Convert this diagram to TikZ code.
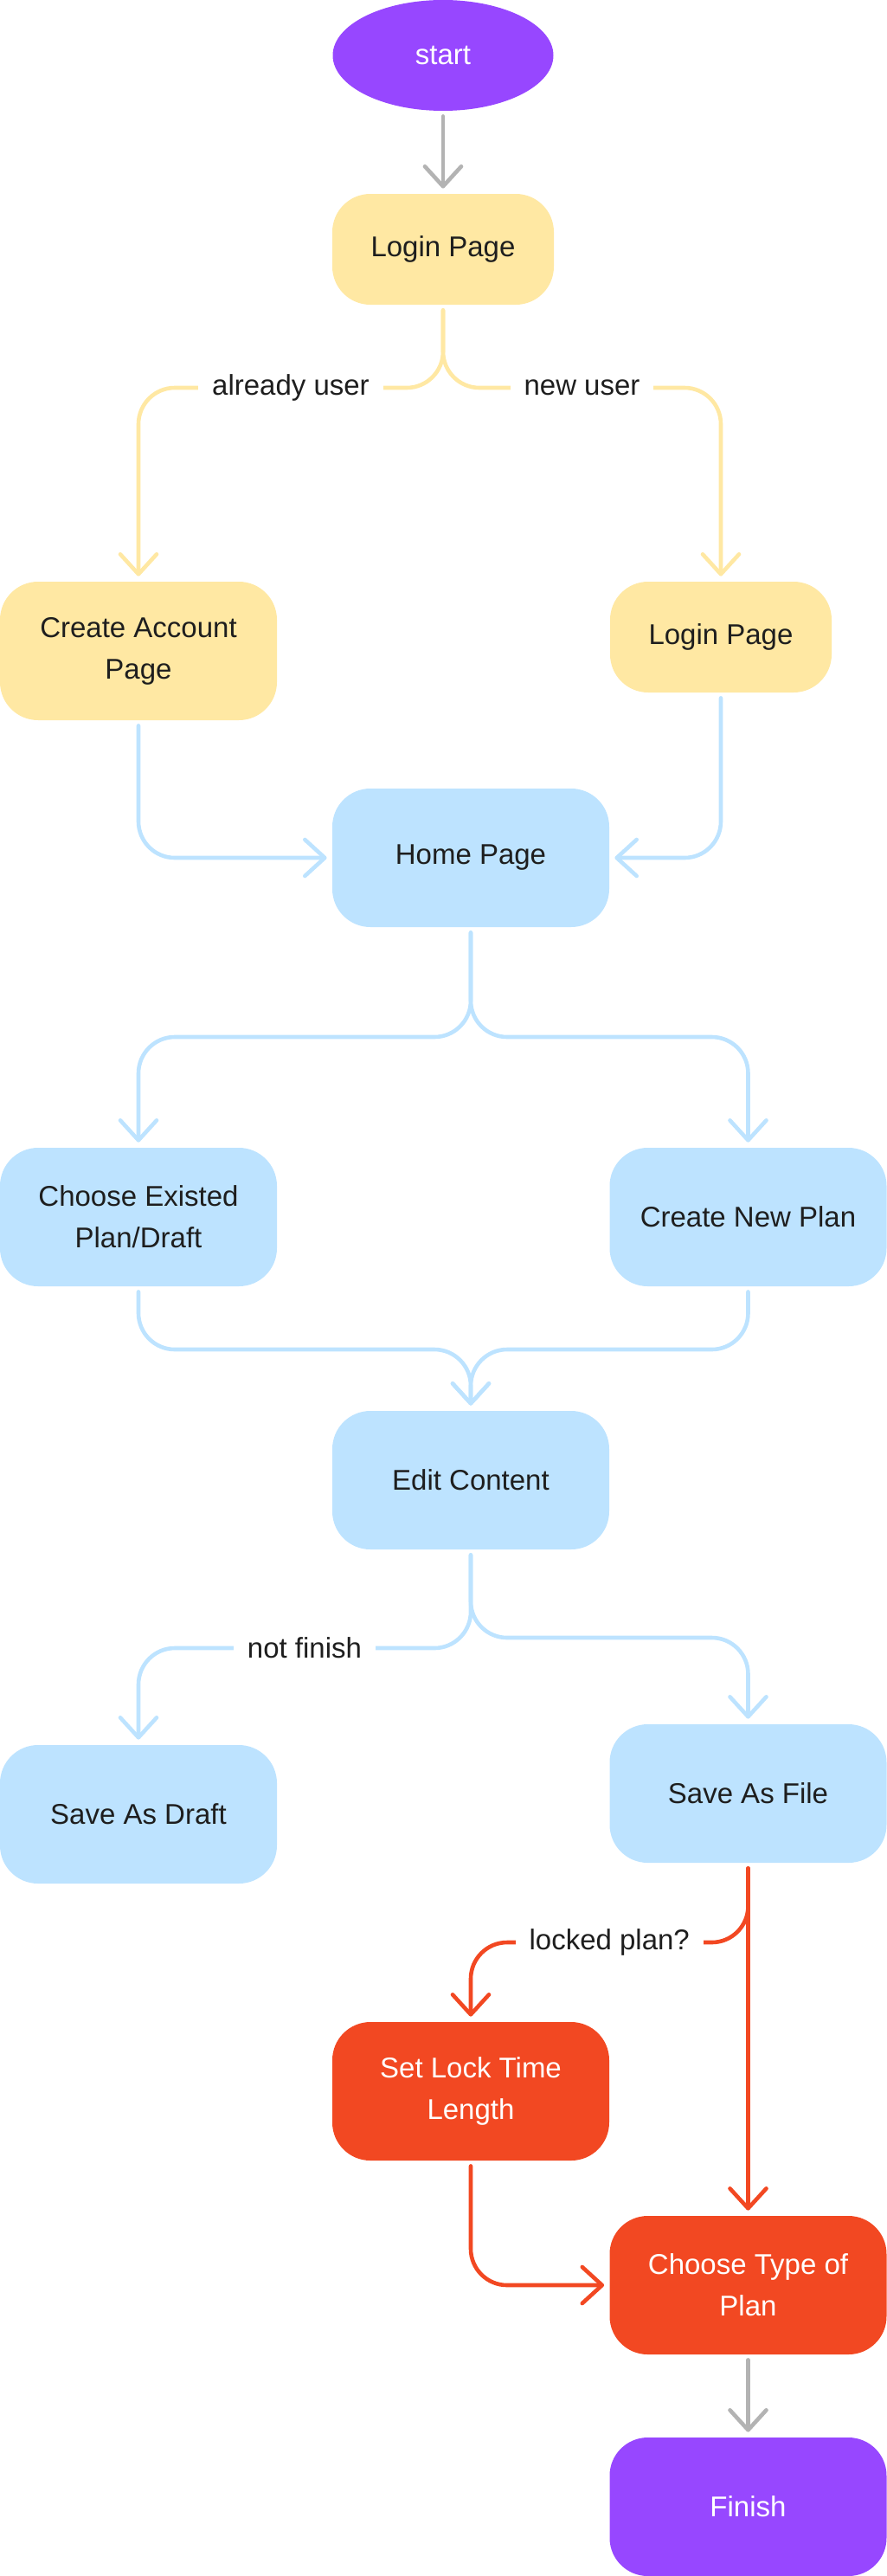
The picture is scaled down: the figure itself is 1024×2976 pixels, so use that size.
\documentclass[tikz,border=0pt]{standalone}
\usepackage{fontspec}
\setmainfont{Liberation Sans}
\usetikzlibrary{arrows.meta,shapes.geometric}
\definecolor{cpurple}{HTML}{9747FF}
\definecolor{cyellow}{HTML}{FFE8A3}
\definecolor{cblue}{HTML}{BDE3FF}
\definecolor{cred}{HTML}{F24822}
\definecolor{cgray}{HTML}{B3B3B3}
\definecolor{textdark}{HTML}{1E1E1E}
\tikzset{
  box/.style={rectangle, rounded corners=22pt, minimum width=160pt, minimum height=80pt,
    inner sep=0pt, align=center, text=textdark, font=\fontsize{16.5}{24}\selectfont},
  ybox/.style={box, fill=cyellow},
  bbox/.style={box, fill=cblue},
  rbox/.style={box, fill=cred, text=white},
  pbox/.style={box, fill=cpurple, text=white},
  conn/.style={line width=2.3pt, rounded corners=21pt, line cap=round, line join=round,
    shorten <=3pt, shorten >=3pt,
    -{Straight Barb[length=11.5pt,width=21pt,round]}},
  yconn/.style={conn, draw=cyellow},
  bconn/.style={conn, draw=cblue},
  rconn/.style={conn, draw=cred},
  gconn/.style={conn, draw=cgray},
  lbl/.style={fill=white, inner xsep=8pt, inner ysep=3pt, text=textdark,
    font=\fontsize{16.5}{20}\selectfont, rounded corners=0pt}
}
\begin{document}
\begin{tikzpicture}[x=0.5pt, y=-0.5pt]
\useasboundingbox (0,0) rectangle (1024,2976);
% nodes
\node[ellipse, fill=cpurple, text=white, minimum width=127.5pt, minimum height=64pt,
  inner sep=0pt, font=\fontsize{16.5}{20}\selectfont] (start) at (512,64) {start};
\node[ybox, minimum width=128pt, minimum height=64pt] (lp1) at (512,288) {Login Page};
\node[ybox] (ca) at (160,752) {Create Account\\Page};
\node[ybox, minimum width=128pt, minimum height=64pt] (lp2) at (833,736) {Login Page};
\node[bbox] (hp) at (544,991) {Home Page};
\node[bbox] (ce) at (160,1406) {Choose Existed\\Plan/Draft};
\node[bbox] (cn) at (864.5,1406) {Create New Plan};
\node[bbox] (ec) at (544,1710) {Edit Content};
\node[bbox] (sd) at (160,2096) {Save As Draft};
\node[bbox] (sf) at (864.5,2072) {Save As File};
\node[rbox] (sl) at (544,2416) {Set Lock Time\\Length};
\node[rbox] (ct) at (864.5,2640) {Choose Type of\\Plan};
\node[pbox] (fin) at (864.5,2896) {Finish};
% helper rows
\coordinate (r1) at (0,448);
\coordinate (r3) at (0,1198);
\coordinate (r4) at (0,1559);
\coordinate (r5l) at (0,1904);
\coordinate (r5r) at (0,1892);
\coordinate (r6) at (0,2244);
% connectors
\draw[gconn] (start.south) -- (lp1.north);
\draw[yconn] (lp1.south) -- (lp1.south |- r1) -- (ca.north |- r1) node[lbl, pos=0.5] {already user} -- (ca.north);
\draw[yconn] (lp1.south) -- (lp1.south |- r1) -- (lp2.south |- r1) node[lbl, pos=0.5] {new user} -- (lp2.north);
\draw[bconn] (ca.south) -- (ca.south |- hp.west) -- (hp.west);
\draw[bconn] (lp2.south) -- (lp2.south |- hp.east) -- (hp.east);
\draw[bconn] (hp.south) -- (hp.south |- r3) -- (ce.north |- r3) -- (ce.north);
\draw[bconn] (hp.south) -- (hp.south |- r3) -- (cn.north |- r3) -- (cn.north);
\draw[bconn] (ce.south) -- (ce.south |- r4) -- (ec.north |- r4) -- (ec.north);
\draw[bconn] (cn.south) -- (cn.south |- r4) -- (ec.north |- r4) -- (ec.north);
\draw[bconn] (ec.south) -- (ec.south |- r5l) -- (sd.north |- r5l) node[lbl, pos=0.5] {not finish} -- (sd.north);
\draw[bconn] (ec.south) -- (ec.south |- r5r) -- (sf.north |- r5r) -- (sf.north);
\draw[rconn] (sf.south) -- (ct.north);
\draw[rconn] (sf.south) -- (sf.south |- r6) -- (sl.north |- r6) node[lbl, pos=0.5] {locked plan?} -- (sl.north);
\draw[rconn] (sl.south) -- (sl.south |- ct.west) -- (ct.west);
\draw[gconn] (ct.south) -- (fin.north);
\end{tikzpicture}
\end{document}
